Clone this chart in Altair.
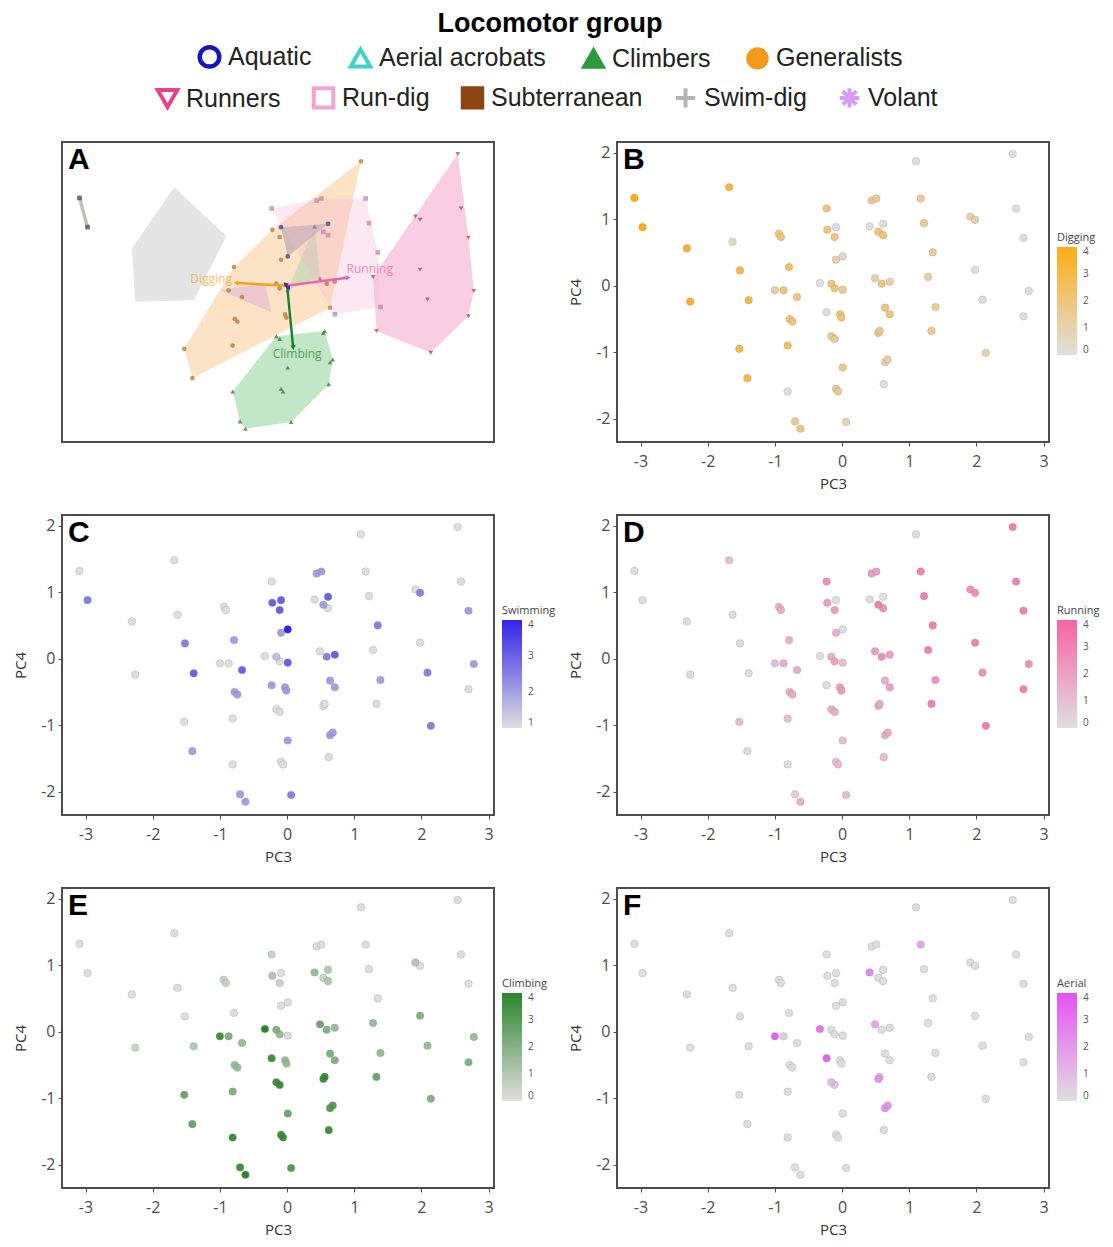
import math
import altair as alt
import pandas as pd

# ---------------- data ----------------
pc3 = [-3.09, -2.97, -2.31, -2.26, -1.68, -1.63, -1.52, -1.39, -0.94, -0.91,
       -1.53, -1.41, -0.79, -1.00, -0.87, -0.67, -0.78, -0.74, -0.81, -0.81,
       -0.70, -0.62, -0.23, -0.22, -0.09, -0.11, -0.09, 0.01, -0.33, -0.16,
       -0.11, 0.01, -0.23, -0.03, -0.01, -0.16, -0.11, 0.01, -0.09, -0.06,
       0.06, 0.44, 0.51, 0.41, 0.61, 0.54, 0.61, 0.49, 0.59, 0.71,
       0.64, 0.71, 0.54, 0.56, 0.64, 0.68, 0.62, 1.10, 1.17, 1.22,
       1.35, 1.28, 1.39, 1.33, 1.91, 1.98, 1.98, 2.09, 2.14, 2.54,
       2.59, 2.70, 2.78, 2.70]
pc4 = [1.32, 0.88, 0.56, -0.24, 1.48, 0.66, 0.23, -0.22, 0.78, 0.73,
       -0.95, -1.39, 0.28, -0.07, -0.07, -0.17, -0.50, -0.54, -0.90, -1.59,
       -2.04, -2.15, 1.16, 0.84, 0.88, 0.73, 0.39, 0.44, 0.04, 0.03,
       -0.04, -0.06, -0.40, -0.43, -0.48, -0.76, -0.80, -1.23, -1.55, -1.59,
       -2.05, 1.28, 1.31, 0.89, 0.93, 0.81, 0.76, 0.11, 0.03, 0.06,
       -0.33, -0.43, -0.71, -0.68, -1.15, -1.11, -1.48, 1.87, 1.31, 0.94,
       0.50, 0.13, -0.32, -0.68, 1.04, 0.99, 0.24, -0.21, -1.01, 1.98,
       1.16, 0.72, -0.08, -0.46]
group_code = ["Sub", "Sub", "SD", "SD", "SD", "SD", "SD", "SD", "SD", "SD",
              "Gen", "Gen", "Gen", "Vol", "Gen", "Gen", "Gen", "Gen", "Gen", "Cl",
              "Cl", "Cl", "RD", "Gen", "Aq", "Gen", "Gen", "Aq", "Vol", "Gen",
              "Gen", "AA", "Vol", "Gen", "Gen", "Cl", "Cl", "Cl", "Cl", "Cl",
              "Cl", "RD", "RD", "AA", "Aq", "RD", "RD", "AA", "Gen", "Gen",
              "Gen", "RD", "Cl", "Cl", "Cl", "Cl", "Cl", "Gen", "RD", "RD",
              "RD", "Run", "RD", "Run", "Run", "Run", "Run", "Run", "Run", "Run",
              "Run", "Run", "Run", "Run"]
digging = [4, 4, 3.5, 3.5, 3, 0.5, 3, 3, 2, 2,
           3, 3, 2.5, 1, 2, 2, 2, 2, 2.5, 0,
           1.5, 2, 2, 2, 0, 2, 1, 0.5, 0, 2,
           2, 1.5, 0, 2, 2, 1.5, 1.5, 1.5, 1.5, 1.5,
           1, 1.5, 1.5, 0, 0, 2, 2, 1, 2, 1,
           2, 2, 1.5, 1.5, 1, 1, 0, 0, 1.5, 1.5,
           1.5, 1, 1.5, 1.5, 1, 1, 0, 0, 1, 0,
           0, 0, 0, 0]
swimming = [1, 2.5, 1, 1, 1, 1, 2.5, 3, 1, 1,
            1, 2, 2, 1, 1, 3, 2, 2, 1, 1,
            2, 2, 1, 3, 3, 3, 2, 4, 1, 1.5,
            1, 3, 2, 2, 2, 1, 1, 2, 1, 1,
            2.5, 2, 2, 1, 3, 2, 1, 1, 2.5, 3,
            2, 2, 1, 1, 2, 2, 1, 1, 1, 1,
            2.5, 1, 2, 1, 1, 2.5, 1, 2.5, 2.5, 1,
            1, 2, 2, 1]
running = [0, 0, 0, 0, 1, 0, 0, 0, 1.5, 1.5,
           1, 0, 1.5, 1, 1.5, 1.5, 1.5, 1.5, 1, 0,
           0.5, 1.5, 2.5, 2, 0, 2, 1.5, 0, 0, 1.5,
           2, 1, 0, 2, 2, 1.5, 1.5, 1, 1, 1,
           1, 2, 2, 0, 0, 3, 2.5, 2, 2.5, 2,
           1.5, 2, 1.5, 1.5, 1.5, 1.5, 1, 0, 3, 3,
           3, 3, 2.5, 3, 2.5, 2.5, 3, 2.5, 3, 3,
           3, 3, 2.5, 3]
climbing = [0, 0, 0, 0.5, 0, 0, 0, 1, 0.5, 0.5,
            2.5, 2.5, 0, 3.5, 2, 1.5, 1.5, 1.5, 2, 3.5,
            3.5, 4, 0.5, 1, 0, 0.5, 0, 0, 4, 2,
            1.5, 0, 3.5, 1.5, 1.5, 3.5, 3.5, 2.5, 3.5, 3.5,
            3, 0, 0, 1.5, 1, 0.5, 1, 2.5, 2, 1.5,
            2, 2, 3.5, 3.5, 3, 3, 3.5, 0, 0, 0,
            0, 1.5, 1.5, 2.5, 1, 0, 2, 1.5, 2, 0,
            0, 0, 1.5, 2]
aerial = [0, 0, 0, 0, 0, 0, 0, 0, 0, 0,
          0, 0, 0, 3.5, 0.5, 0, 0, 0, 0, 0,
          0, 0, 0, 0, 0, 0, 0, 0, 3, 0,
          0, 0, 3.5, 0, 0, 1, 0.5, 0, 0, 0,
          0, 0, 0, 2.5, 0, 0, 0, 1.5, 0, 0,
          0, 0, 2, 1, 2, 2, 0, 0, 1.5, 0,
          0, 0, 0, 0, 0, 0, 0, 0, 0, 0,
          0, 0, 0, 0]

codes = ["Aq", "AA", "Cl", "Gen", "Run", "RD", "Sub", "SD", "Vol"]
groups = ["Aquatic", "Aerial acrobats", "Climbers", "Generalists", "Runners",
          "Run-dig", "Subterranean", "Swim-dig", "Volant"]
group_stroke = ["#1414b8", "#3fd3c6", "#2e9a3c", "#f39a1c", "#e8418f",
                "#f0a6d0", "#8b4513", "#b5b5b5", "#d79bf3"]
group_fill = ["#ffffff", "#ffffff", "#2e9a3c", "#f39a1c", "#ffffff",
              "#ffffff", "#8b4513", "#ffffff", "#ffffff"]
group_hull = ["#2a3dbf", "#3fd3c6", "#33b044", "#f5a340", "#ec5d9f",
              "#f6b3cf", "#8f8a86", "#a8a8a8", "#c98cf0"]
PLUS = "M-1,0L1,0M0,-1L0,1"
STAR = "M-1,0L1,0M0,-1L0,1M-0.7,-0.7L0.7,0.7M-0.7,0.7L0.7,-0.7"
group_shape = ["circle", "triangle-up", "triangle-up", "circle", "triangle-down",
               "square", "square", PLUS, STAR]
group_sw = [4.5, 3, 1, 1, 4, 4, 1, 3, 1.5]
point_a_color = ["#3a3a8a", "#5a7a8a", "#3e6e3e", "#b07a3a", "#9a4a6e",
                 "#c08aa8", "#4a4a4a", "#7a7a7a", "#8a6aa8"]

traits = ["Digging", "Running", "Climbing", "Swimming", "Aerial"]
load_pc3 = [-0.75, 0.90, 0.09, 0.02, -0.02]
load_pc4 = [0.04, 0.12, -0.92, -0.03, 0.02]
trait_colors = ["#f5a21e", "#ee5fae", "#1d7d2e", "#3b2fc9", "#5b2a86"]
label_traits = ["Digging", "Running", "Climbing"]
label_pc3 = [-1.13, 1.23, 0.15]
label_pc4 = [0.10, 0.25, -1.03]

# ---------------- derived tables ----------------
name_of = dict(zip(codes, groups))
df = pd.DataFrame({
    "pc3": pc3, "pc4": pc4, "group": [name_of[c] for c in group_code],
    "dig": digging, "swim": swimming, "run": running, "climb": climbing, "aer": aerial,
})


def convex_hull(points):
    pts = sorted(set(points))
    if len(pts) <= 2:
        return pts

    def cross(o, a, b):
        return (a[0] - o[0]) * (b[1] - o[1]) - (a[1] - o[1]) * (b[0] - o[0])

    lower, upper = [], []
    for p in pts:
        while len(lower) >= 2 and cross(lower[-2], lower[-1], p) <= 0:
            lower.pop()
        lower.append(p)
    for p in reversed(pts):
        while len(upper) >= 2 and cross(upper[-2], upper[-1], p) <= 0:
            upper.pop()
        upper.append(p)
    return lower[:-1] + upper[:-1]


hull_rows, seg_rows = [], []
for g in groups:
    sub = df[df["group"] == g]
    h = convex_hull(list(zip(sub["pc3"], sub["pc4"])))
    if not h:
        continue
    if len(h) <= 2:
        for i, (hx, hy) in enumerate(h):
            seg_rows.append({"group": g, "x": hx, "y": hy, "ord": i})
        continue
    h = h + [h[0]]
    for i, (hx, hy) in enumerate(h):
        hull_rows.append({"group": g, "x": hx, "y": hy, "ord": i})
hull_df = pd.DataFrame(hull_rows)
seg_df = pd.DataFrame(seg_rows)

arr_df = pd.DataFrame({
    "trait": traits, "x0": [0.0] * len(traits), "y0": [0.0] * len(traits),
    "x": load_pc3, "y": load_pc4,
    "ang": [(math.degrees(math.atan2(a, b)) + 360) % 360 for a, b in zip(load_pc3, load_pc4)],
})
lab_df = pd.DataFrame({"trait": label_traits, "x": label_pc3, "y": label_pc4})

# ---------------- styling helpers ----------------
W, H = 432, 300
MINUS = "datum.value < 0 ? '-' + abs(datum.value) : '' + datum.value"
xs = alt.Scale(domain=[-3.35, 3.08], nice=False, zero=False)
ys = alt.Scale(domain=[-2.35, 2.16], nice=False, zero=False)


def ax_x(title):
    return alt.Axis(title=title, values=[-3, -2, -1, 0, 1, 2, 3], labelExpr=MINUS,
                    labelPadding=7, titlePadding=7)


def ax_y(title):
    return alt.Axis(title=title, values=[-2, -1, 0, 1, 2], labelExpr=MINUS,
                    labelPadding=3, titlePadding=12)


def letter(ch):
    return alt.Chart(pd.DataFrame({"t": [ch]})).mark_text(
        font="Liberation Sans", fontSize=30, fontWeight="bold", align="left",
        baseline="middle", color="black"
    ).encode(text="t:N", x=alt.value(6), y=alt.value(18))


gscale = lambda rng: alt.Scale(domain=groups, range=rng)

# ---------------- panel A ----------------
hulls = alt.Chart(hull_df).mark_line(fillOpacity=0.3, strokeOpacity=0).encode(
    x=alt.X("x:Q", scale=xs, axis=ax_x("PC3, 12.9%")),
    y=alt.Y("y:Q", scale=ys, axis=ax_y("PC4, 4.3%")),
    order="ord:Q",
    detail="group:N",
    fill=alt.Fill("group:N", scale=gscale(group_hull), legend=None),
)
segs = alt.Chart(seg_df).mark_line(strokeWidth=3.5, opacity=0.55).encode(
    x=alt.X("x:Q", scale=xs, axis=None),
    y=alt.Y("y:Q", scale=ys, axis=None),
    order="ord:Q",
    detail="group:N",
    stroke=alt.Stroke("group:N", scale=gscale(group_hull), legend=None),
)
pts_a = alt.Chart(df).mark_point(size=22, opacity=0.75, strokeWidth=1, filled=True).encode(
    x=alt.X("pc3:Q", scale=xs, axis=None),
    y=alt.Y("pc4:Q", scale=ys, axis=None),
    shape=alt.Shape("group:N", scale=gscale(group_shape), legend=None),
    fill=alt.Fill("group:N", scale=gscale(point_a_color), legend=None),
)
tscale = alt.Scale(domain=traits, range=trait_colors)
rules = alt.Chart(arr_df).mark_rule(strokeWidth=2.4).encode(
    x=alt.X("x0:Q", scale=xs, axis=None), y=alt.Y("y0:Q", scale=ys, axis=None),
    x2="x:Q", y2="y:Q",
    color=alt.Color("trait:N", scale=tscale, legend=None),
)
heads = alt.Chart(arr_df).mark_point(shape="triangle", filled=True, size=28, opacity=1).encode(
    x=alt.X("x:Q", scale=xs, axis=None), y=alt.Y("y:Q", scale=ys, axis=None),
    angle=alt.Angle("ang:Q", scale=None),
    color=alt.Color("trait:N", scale=tscale, legend=None),
)
labels = alt.Chart(lab_df).mark_text(fontSize=12, opacity=0.7, font="Open Sans").encode(
    x=alt.X("x:Q", scale=xs, axis=None), y=alt.Y("y:Q", scale=ys, axis=None),
    text="trait:N",
    color=alt.Color("trait:N", scale=tscale, legend=None),
)
panelA = alt.layer(hulls, segs, pts_a, rules, heads, labels, letter("A")).resolve_scale(
    fill="independent").properties(width=W, height=H)

# ---------------- panels B-F ----------------
LOW = "#dcdcdc"


def score_panel(field, title, high, lo, ch):
    vals = list(range(lo, 5))
    leg = alt.Legend(title=title, orient="none", legendX=440, legendY=90,
                     gradientLength=108, gradientThickness=20, gradientStrokeWidth=0,
                     titleFontSize=11, titleFontWeight="normal", titleFont="Open Sans",
                     titleColor="#444", labelFontSize=10, labelFont="Open Sans",
                     labelColor="#555", values=vals, labelOffset=6, titlePadding=4)
    pts = alt.Chart(df).mark_circle(size=58, opacity=0.92, stroke="#808080",
                                    strokeWidth=0.6, strokeOpacity=0.45).encode(
        x=alt.X("pc3:Q", scale=xs, axis=ax_x("PC3")),
        y=alt.Y("pc4:Q", scale=ys, axis=ax_y("PC4")),
        color=alt.Color(f"{field}:Q", scale=alt.Scale(domain=[lo, 4], range=[LOW, high],
                                                      interpolate="rgb", clamp=True),
                        legend=leg),
        order=alt.Order(f"{field}:Q", sort="ascending"),
    )
    return alt.layer(pts, letter(ch)).properties(width=W, height=H)


panelB = score_panel("dig", "Digging", "#ffa500", 0, "B")
panelC = score_panel("swim", "Swimming", "#1f10e8", 1, "C")
panelD = score_panel("run", "Running", "#f7559f", 0, "D")
panelE = score_panel("climb", "Climbing", "#1a7a1a", 0, "E")
panelF = score_panel("aer", "Aerial", "#e542f5", 0, "F")

grid = alt.concat(panelA, panelB, panelC, panelD, panelE, panelF, columns=2,
                  spacing={"row": 22, "column": 10}).resolve_scale(color="independent")

# ---------------- top legend ----------------


def legend_layer(names, title, lx, ly, colpad):
    idx = [groups.index(n) for n in names]
    kw = dict(orient="none", legendX=lx, legendY=ly, direction="horizontal",
              symbolSize=380, labelFontSize=25, labelFont="Liberation Sans",
              labelColor="#222", columnPadding=colpad, labelOffset=6, labelLimit=400)
    if title:
        kw.update(title=title, titleFontSize=27, titleFont="Liberation Sans",
                  titleFontWeight="bold", titleColor="black", titleAnchor="middle",
                  titlePadding=6, titleLimit=800)
    else:
        kw.update(title=None)
    leg = alt.Legend(**kw)
    sc = lambda rng: alt.Scale(domain=names, range=[rng[i] for i in idx])
    return alt.Chart(pd.DataFrame({"g": names})).mark_point(clip=True, opacity=1).encode(
        x=alt.value(-60), y=alt.value(-60),
        shape=alt.Shape("g:N", scale=sc(group_shape), legend=leg),
        fill=alt.Fill("g:N", scale=sc(group_fill), legend=leg),
        stroke=alt.Stroke("g:N", scale=sc(group_stroke), legend=leg),
        strokeWidth=alt.StrokeWidth("g:N", scale=sc(group_sw), legend=leg),
    )


top = alt.layer(
    legend_layer(groups[:4], "Locomotor group", 135, 0, 30),
    legend_layer(groups[4:], None, 93, 74, 24),
).resolve_scale(shape="independent", fill="independent", stroke="independent",
                strokeWidth="independent").properties(
    width=1040, height=107, view=alt.ViewBackground(stroke="transparent"))

chart = alt.vconcat(top, grid, spacing=22).resolve_scale(
    color="independent", fill="independent", stroke="independent",
    shape="independent", strokeWidth="independent"
).properties(
    padding={"left": 4, "top": 2, "right": 0, "bottom": 0}
).configure_view(stroke="#4d4d4d", strokeWidth=2).configure_axis(
    labelFont="Open Sans", labelFontSize=16, labelColor="#4d4d4d",
    titleFont="Open Sans", titleFontSize=15, titleFontWeight="normal", titleColor="#333",
    tickColor="#4d4d4d", tickSize=4, domain=False, grid=False,
)

chart.save("out.html", embed_options={"renderer": "svg", "actions": False})
